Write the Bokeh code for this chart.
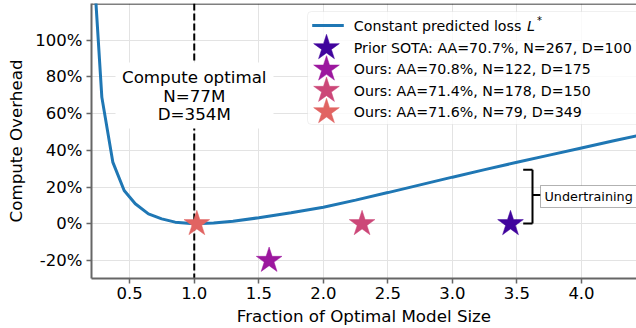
from bokeh.plotting import figure
from bokeh.models import Range1d, FixedTicker, Span, Label, BoxAnnotation
from bokeh.embed import file_html
from bokeh.resources import INLINE

# ---------------- data ----------------
curve_x = [0.22, 0.284, 0.369, 0.457, 0.543, 0.645, 0.748, 0.852, 1.0, 1.15, 1.3,
           1.5, 1.75, 2.0, 2.25, 2.5, 2.75, 3.0, 3.25, 3.5, 3.75, 4.0, 4.25, 4.5]
curve_y = [141.0, 69.0, 33.6, 18.1, 10.9, 5.4, 2.7, 0.9, 0.0, 0.4, 1.4,
           3.3, 6.0, 9.0, 12.9, 17.0, 21.2, 25.4, 29.5, 33.5, 37.4, 41.3, 45.2, 49.0]
curve_label = "Constant predicted loss"

star_labels = ["Prior SOTA: AA=70.7%, N=267, D=100",
               "Ours: AA=70.8%, N=122, D=175",
               "Ours: AA=71.4%, N=178, D=150",
               "Ours: AA=71.6%, N=79, D=349"]
star_x = [3.45, 1.58, 2.30, 1.02]
star_y = [0.0, -20.0, 0.0, 0.0]
star_colors = ["#41049d", "#9c179e", "#cc4778", "#e16462"]

opt_x = 1.0
opt_lines = ["Compute optimal", "N=77M", "D=354M"]

x_ticks = [0.5, 1.0, 1.5, 2.0, 2.5, 3.0, 3.5, 4.0]
y_ticks = [-20, 0, 20, 40, 60, 80, 100]
y_tick_labels = ["-20%", "0%", "20%", "40%", "60%", "80%", "100%"]

FONT = "DejaVu Sans"

# ---------------- layout helpers (canvas pixels -> frame pixel ranges) ----------------
FL, FT, FR, FB = 91, 3, 636, 278
FW, FH = FR - FL, FB - FT


def PX(cx):
    return cx - FL


def PY(cy):
    return FB - cy


p = figure(frame_width=FW, frame_height=FH,
           x_range=Range1d(0.204, 4.426), y_range=Range1d(-29.8, 120.0),
           output_backend="svg", toolbar_location=None,
           min_border_left=FL, min_border_right=0, min_border_top=FT,
           min_border_bottom=328 - FB)
p.extra_x_ranges = {"px": Range1d(0, FW)}
p.extra_y_ranges = {"py": Range1d(0, FH)}

p.background_fill_color = "white"
p.border_fill_color = "white"
p.outline_line_color = None

# grid
p.xgrid.grid_line_color = "#e3e3e3"
p.ygrid.grid_line_color = "#e3e3e3"
p.xgrid.grid_line_width = 1
p.ygrid.grid_line_width = 1

# axes
p.xaxis.ticker = FixedTicker(ticks=x_ticks)
p.yaxis.ticker = FixedTicker(ticks=y_ticks)
p.xaxis.major_label_overrides = {t: f"{t:.1f}" for t in x_ticks}
p.yaxis.major_label_overrides = {t: l for t, l in zip(y_ticks, y_tick_labels)}
p.xaxis.axis_label = "Fraction of Optimal Model Size"
p.yaxis.axis_label = "Compute Overhead"
for ax in (p.xaxis[0], p.yaxis[0]):
    ax.axis_line_color = "#666666"
    ax.axis_line_width = 2
    ax.major_tick_line_color = "#666666"
    ax.major_tick_line_width = 1.5
    ax.major_tick_out = 5
    ax.major_tick_in = 0
    ax.minor_tick_out = 0
    ax.minor_tick_in = 0
    ax.major_label_text_font = FONT
    ax.major_label_text_font_size = "16.5px"
    ax.major_label_text_color = "black"
    ax.axis_label_text_font = FONT
    ax.axis_label_text_font_size = "16.7px"
    ax.axis_label_text_font_style = "normal"
    ax.axis_label_text_color = "black"
p.xaxis.major_label_standoff = 3
p.xaxis.axis_label_standoff = 4
p.yaxis.major_label_standoff = 4
p.yaxis.axis_label_standoff = 6

# top border of the frame
p.line([0, FW], [PY(3.5)] * 2, line_color="black", line_width=1,
       x_range_name="px", y_range_name="py")

# vertical dashed line at compute optimal
span = Span(location=opt_x, dimension="height", line_color="black",
            line_width=2, line_dash="7 3", level="underlay")
p.add_layout(span)

# white box behind "compute optimal" text
p.add_layout(BoxAnnotation(left=PX(115), right=PX(273), top=PY(62), bottom=PY(128),
                           fill_color="white", fill_alpha=1.0, line_alpha=0,
                           x_range_name="px", y_range_name="py", level="underlay"))
for txt, cy in zip(opt_lines, [76.5, 95, 113.5]):
    p.add_layout(Label(x=opt_x, y=PY(cy), y_range_name="py", text=txt,
                       text_align="center", text_baseline="middle",
                       text_font=FONT, text_font_size="16.7px", text_color="black"))

# curve
p.line(curve_x, curve_y, line_color="#1f77b4", line_width=3)

# stars
p.scatter(star_x, star_y, marker="star", size=27, fill_color=star_colors,
          line_color=star_colors, line_width=0.5)

# legend box
p.add_layout(BoxAnnotation(left=PX(307), right=PX(660), top=PY(11), bottom=PY(124),
                           fill_color="white", fill_alpha=0.8,
                           line_color="#cccccc", line_width=1, border_radius=4,
                           x_range_name="px", y_range_name="py", level="underlay"))
row_y = [25, 47.3, 68.7, 90, 111.3]
p.line([PX(311.7), PX(343.3)], [PY(row_y[0])] * 2, line_color="#1f77b4", line_width=3,
       x_range_name="px", y_range_name="py")
p.scatter([PX(326)] * 4, [PY(v) for v in row_y[1:]], marker="star", size=27,
          fill_color=star_colors, line_color=star_colors, line_width=0.5,
          x_range_name="px", y_range_name="py")
p.add_layout(Label(x=PX(353.3), y=PY(row_y[0]), x_range_name="px", y_range_name="py",
                   text=curve_label, text_baseline="middle", text_font=FONT,
                   text_font_size="14.2px", text_color="black"))
p.add_layout(Label(x=PX(526.5), y=PY(row_y[0]), x_range_name="px", y_range_name="py",
                   text="L", text_baseline="middle", text_font=FONT,
                   text_font_style="italic", text_font_size="14.2px", text_color="black"))
p.add_layout(Label(x=PX(536.5), y=PY(20), x_range_name="px", y_range_name="py",
                   text="*", text_baseline="middle", text_font=FONT,
                   text_font_size="10px", text_color="black"))
for lab, cy in zip(star_labels, row_y[1:]):
    p.add_layout(Label(x=PX(353.3), y=PY(cy), x_range_name="px", y_range_name="py",
                       text=lab, text_baseline="middle", text_font=FONT,
                       text_font_size="14.2px", text_color="black"))

# undertraining bracket
p.multi_line(xs=[[PX(522.7), PX(532)], [PX(532), PX(532)], [PX(522.7), PX(532)], [PX(532), PX(540)]],
             ys=[[PY(169.3)] * 2, [PY(169.3), PY(223)], [PY(223)] * 2, [PY(194.5)] * 2],
             line_color="black", line_width=2, x_range_name="px", y_range_name="py")
p.add_layout(BoxAnnotation(left=PX(540), right=PX(660), top=PY(185), bottom=PY(207),
                           fill_color="white", fill_alpha=1.0, line_color="black",
                           line_width=1, x_range_name="px", y_range_name="py"))
p.add_layout(Label(x=PX(544), y=PY(196), x_range_name="px", y_range_name="py",
                   text="Undertraining", text_baseline="middle", text_font=FONT,
                   text_font_size="12.8px", text_color="black"))

open("out.html", "w").write(file_html(p, INLINE))
